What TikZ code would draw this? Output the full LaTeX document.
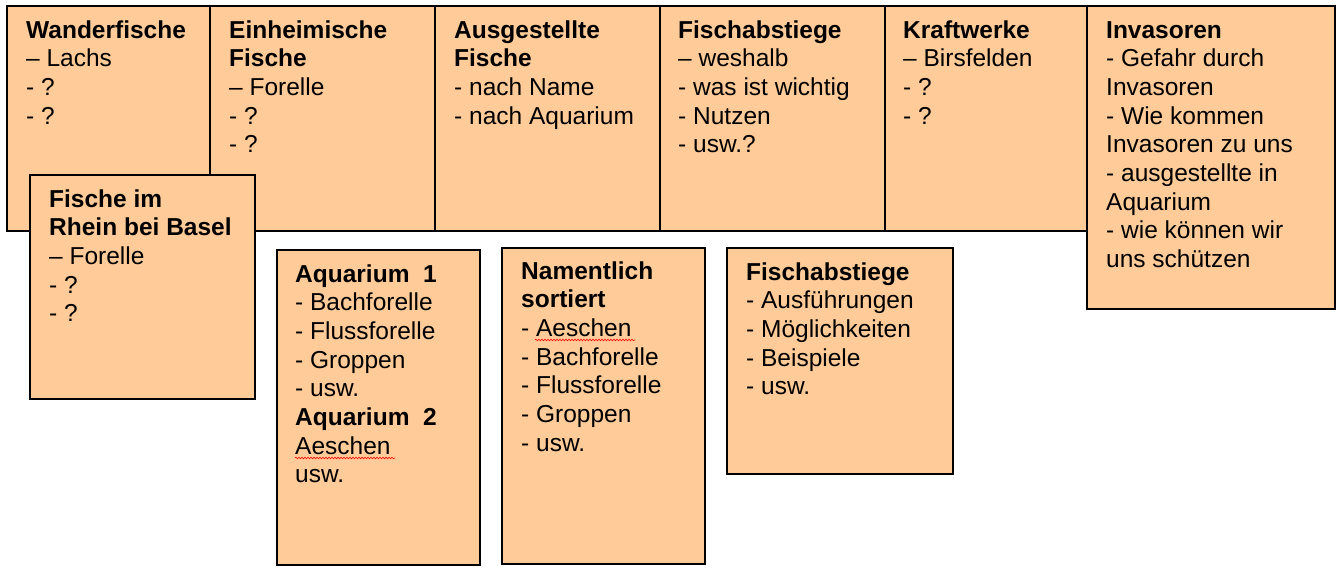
\documentclass[tikz,border=0pt]{standalone}
\usepackage{fontspec}
\setmainfont{Liberation Sans}
\usetikzlibrary{calc,decorations.pathmorphing}
\definecolor{peach}{RGB}{255,204,153}
\tikzset{
  card/.style={draw=black, fill=peach, line width=1.5pt, inner sep=0pt, anchor=north west},
  cardtext/.style={anchor=base west, inner sep=0pt, font=\fontsize{24.5}{28.7}\selectfont},
  squig/.style={draw=red, line width=0.6pt, decorate, decoration={snake, amplitude=0.8pt, segment length=3pt}}
}
\newcommand\cardbody[1]{\parbox[t]{260pt}{\raggedright #1}}
\begin{document}
\begin{tikzpicture}[x=1pt,y=-1pt]
\useasboundingbox (0,0) rectangle (1341,573);
% top row
\node[card, minimum width=203pt, minimum height=225pt] (wf) at (6,5) {};
\node[card, minimum width=225pt, minimum height=225pt] (ef) at (209,5) {};
\node[card, minimum width=225pt, minimum height=225pt] (af) at (434,5) {};
\node[card, minimum width=225pt, minimum height=225pt] (fa) at (659,5) {};
\node[card, minimum width=202pt, minimum height=225pt] (kw) at (884,5) {};
\node[card, minimum width=248pt, minimum height=303pt] (inv) at (1086,5) {};
% lower boxes
\node[card, minimum width=225pt, minimum height=224pt] (rb) at (29,174) {};
\node[card, minimum width=203pt, minimum height=315pt] (aq) at (276,249) {};
\node[card, minimum width=203pt, minimum height=316pt] (ns) at (501,247) {};
\node[card, minimum width=226pt, minimum height=226pt] (fb) at (726,247) {};
% texts
\node[cardtext] (wft) at ($(wf.north west)+(20,33)$) {\cardbody{\textbf{Wanderfische}\\– Lachs\\- ?\\- ?}};
\node[cardtext] (eft) at ($(ef.north west)+(20,33)$) {\cardbody{\textbf{Einheimische}\\\textbf{Fische}\\– Forelle\\- ?\\- ?}};
\node[cardtext] (aft) at ($(af.north west)+(20,33)$) {\cardbody{\textbf{Ausgestellte}\\\textbf{Fische}\\- nach Name\\- nach Aquarium}};
\node[cardtext] (fat) at ($(fa.north west)+(19,33)$) {\cardbody{\textbf{Fischabstiege}\\– weshalb\\- was ist wichtig\\- Nutzen\\- usw.?}};
\node[cardtext] (kwt) at ($(kw.north west)+(19,33)$) {\cardbody{\textbf{Kraftwerke}\\– Birsfelden\\- ?\\- ?}};
\node[cardtext] (invt) at ($(inv.north west)+(20,33)$) {\cardbody{\textbf{Invasoren}\\- Gefahr durch\\Invasoren\\- Wie kommen\\Invasoren zu uns\\- ausgestellte in\\Aquarium\\- wie können wir\\uns schützen}};
\node[cardtext] (rbt) at ($(rb.north west)+(20,33)$) {\cardbody{\textbf{Fische im}\\\textbf{Rhein bei Basel}\\– Forelle\\- ?\\- ?}};
\node[cardtext] (aqt) at ($(aq.north west)+(19,33)$) {\cardbody{\textbf{Aquarium\ \ 1}\\- Bachforelle\\- Flussforelle\\- Groppen\\- usw.\\\textbf{Aquarium\ \ 2}\\Aeschen\\usw.}};
\node[cardtext] (nst) at ($(ns.north west)+(20,32)$) {\cardbody{\textbf{Namentlich}\\\textbf{sortiert}\\- Aeschen\\- Bachforelle\\- Flussforelle\\- Groppen\\- usw.}};
\node[cardtext] (fbt) at ($(fb.north west)+(20,33)$) {\cardbody{\textbf{Fischabstiege}\\- Ausführungen\\- Möglichkeiten\\- Beispiele\\- usw.}};
% spell-check squiggles
\draw[squig] ($(aq.north west)+(19,209)$) -- ++(100,0);
\draw[squig] ($(ns.north west)+(34,93)$) -- ++(100,0);
\end{tikzpicture}
\end{document}
